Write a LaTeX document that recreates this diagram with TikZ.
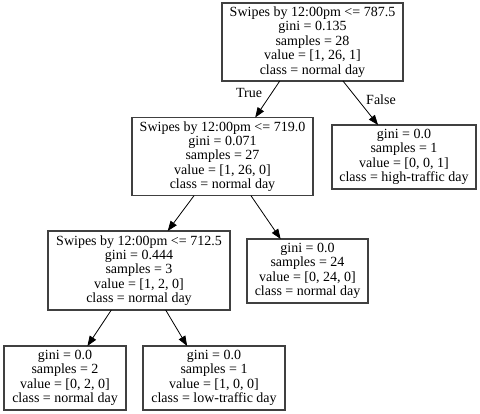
\documentclass[tikz,border=0pt]{standalone}
\usepackage{fontspec}
\setmainfont{Liberation Serif}
\usetikzlibrary{arrows.meta}
\begin{document}
\begin{tikzpicture}[x=1pt,y=-1pt,
  box/.style={draw=black!75,line width=1.2pt,rectangle,outer sep=0pt,inner sep=0pt,align=center,
    font=\fontsize{14}{14.4}\selectfont},
  edge/.style={draw=black,line width=0.8pt,-{Triangle[length=10pt,width=7.5pt]}},
  lbl/.style={font=\fontsize{14}{14.4}\selectfont,inner sep=0pt}]
\useasboundingbox (0,0) rectangle (480,414);
\node[box,minimum width=181pt,minimum height=78pt] (root) at (312.5,42)
  {Swipes by 12:00pm <= 787.5\\gini = 0.135\\samples = 28\\value = [1, 26, 1]\\class = normal day};
\node[box,minimum width=181pt,minimum height=78pt] (n1) at (222.5,156.5)
  {Swipes by 12:00pm <= 719.0\\gini = 0.071\\samples = 27\\value = [1, 26, 0]\\class = normal day};
\node[box,minimum width=144pt,minimum height=64pt] (n2) at (404,157)
  {gini = 0.0\\samples = 1\\value = [0, 0, 1]\\class = high-traffic day};
\node[box,minimum width=182pt,minimum height=79pt] (n3) at (139,270.5)
  {Swipes by 12:00pm <= 712.5\\gini = 0.444\\samples = 3\\value = [1, 2, 0]\\class = normal day};
\node[box,minimum width=121pt,minimum height=64pt] (n4) at (307.5,271)
  {gini = 0.0\\samples = 24\\value = [0, 24, 0]\\class = normal day};
\node[box,minimum width=122pt,minimum height=64pt] (n5) at (65,378)
  {gini = 0.0\\samples = 2\\value = [0, 2, 0]\\class = normal day};
\node[box,minimum width=142pt,minimum height=64pt] (n6) at (214,378)
  {gini = 0.0\\samples = 1\\value = [1, 0, 0]\\class = low-traffic day};
\draw[edge] (root.230.2) -- (n1.50.6);
\draw[edge] (root.308) -- (n2.129.1);
\draw[edge] (n1.234.2) -- (n3.54.7);
\draw[edge] (n1.306.8) -- (n4.130.7);
\draw[edge] (n3.235.6) -- (n5.55.5);
\draw[edge] (n3.304.4) -- (n6.130.2);
\node[lbl] (t) at (249,93) {True};
\node[lbl] (f) at (381,100) {False};
\end{tikzpicture}
\end{document}
